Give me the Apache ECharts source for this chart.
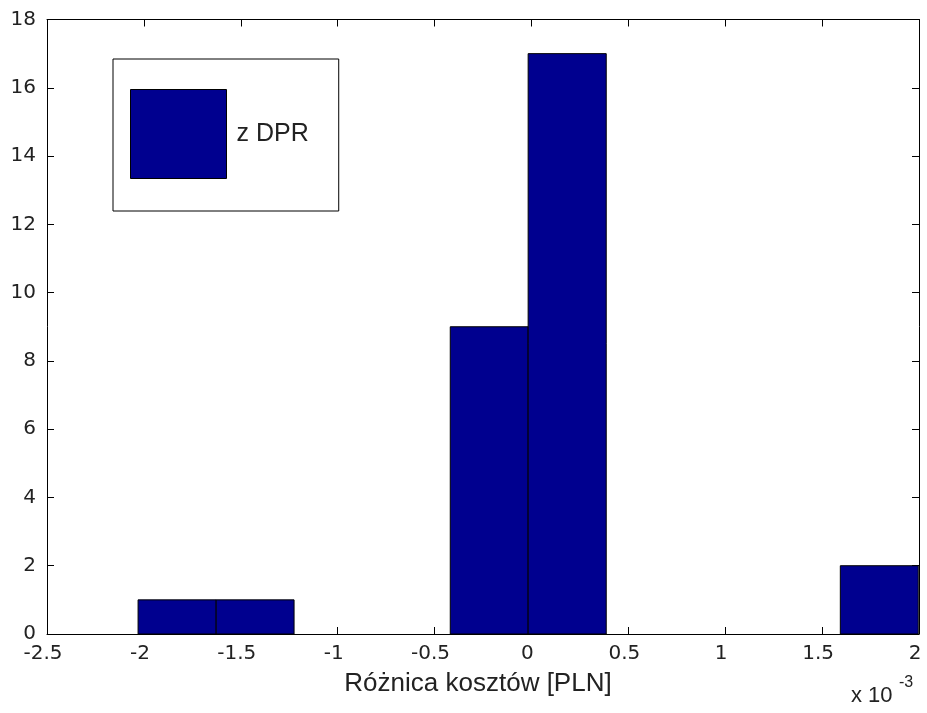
<!DOCTYPE html>
<html>
<head>
<meta charset="utf-8">
<script src="https://cdn.jsdelivr.net/npm/echarts@6/dist/echarts.min.js"></script>
<style>
html,body{margin:0;padding:0;background:#fff;}
#chart{width:927px;height:713px;}
</style>
</head>
<body>
<div id="chart"></div>
<script>
// Histogram bins (x in units of 1e-3 PLN)
const binStarts = [-2.03, -1.627, -1.225, -0.822, -0.419, -0.017, 0.386, 0.789, 1.191, 1.594];
const binEnds   = [-1.627, -1.225, -0.822, -0.419, -0.017, 0.386, 0.789, 1.191, 1.594, 1.996];
const counts    = [1, 1, 0, 0, 9, 17, 0, 0, 0, 2];
const seriesName = 'z DPR';
const xAxisName = 'Różnica kosztów [PLN]';
const xTicks = [-2.5, -2, -1.5, -1, -0.5, 0, 0.5, 1, 1.5, 2];
const yTicks = [0, 2, 4, 6, 8, 10, 12, 14, 16, 18];

const FONT = '"Liberation Sans", Arial, sans-serif';
const TICKFONT = '"DejaVu Sans", sans-serif';
const TXT = '#222';
const BLUE = '#00008F';

const data = binStarts.map((s, i) => [s, binEnds[i], counts[i]]);

const chart = echarts.init(document.getElementById('chart'), null, {renderer: 'canvas'});
const axisCommon = {
  axisLine: {show: true, onZero: false, lineStyle: {color: '#000', width: 1}},
  axisTick: {show: true, inside: true, length: 7, lineStyle: {color: '#000', width: 1}},
  splitLine: {show: false}
};
chart.setOption({
  animation: false,
  backgroundColor: '#fff',
  grid: {left: 47, right: 8, top: 19.5, bottom: 79, containLabel: false, outerBoundsMode: 'none'},
  legend: {
    left: 113, top: 59,
    orient: 'vertical',
    backgroundColor: '#fff',
    borderColor: '#000', borderWidth: 1,
    padding: [30, 30, 32, 17],
    itemWidth: 96, itemHeight: 89,
    icon: 'rect',
    itemStyle: {borderColor: '#000', borderWidth: 1},
    textStyle: {fontFamily: FONT, fontSize: 25, color: TXT, padding: [8, 0, 0, 5]},
    data: [{name: seriesName, icon: 'rect'}]
  },
  xAxis: [
    Object.assign({}, axisCommon, {
      type: 'value', position: 'bottom', min: -2.5, max: 2, interval: 0.5,
      name: xAxisName, nameLocation: 'middle', nameGap: 37,
      nameTextStyle: {fontFamily: FONT, fontSize: 26, color: TXT, padding: [0, 10, 0, 0]},
      axisLabel: {fontFamily: TICKFONT, fontSize: 20, color: TXT, margin: 10, padding: [0, 8, 0, 0],
        formatter: v => String(xTicks.find(t => Math.abs(t - v) < 1e-9) ?? v)}
    }),
    Object.assign({}, axisCommon, {
      type: 'value', position: 'top', min: -2.5, max: 2, interval: 0.5,
      axisLabel: {show: false}
    })
  ],
  yAxis: [
    Object.assign({}, axisCommon, {
      type: 'value', position: 'left', min: 0, max: 18, interval: 2,
      axisLabel: {fontFamily: TICKFONT, fontSize: 20, color: TXT, margin: 11,
        formatter: v => String(yTicks.find(t => t === v) ?? v)}
    }),
    Object.assign({}, axisCommon, {
      type: 'value', position: 'right', min: 0, max: 18, interval: 2,
      axisLabel: {show: false}
    })
  ],
  graphic: [
    {type: 'text', left: 851, top: 685, style: {text: 'x 10', font: '22px ' + FONT, fill: TXT}},
    {type: 'text', left: 899, top: 675, style: {text: '-3', font: '16px ' + FONT, fill: TXT}}
  ],
  series: [{
    name: seriesName,
    type: 'custom',
    color: BLUE,
    itemStyle: {color: BLUE, borderColor: '#000', borderWidth: 1},
    encode: {x: [0, 1], y: 2},
    data: data,
    renderItem: function (params, api) {
      const c = api.value(2);
      if (!c) return null;
      const p0 = api.coord([api.value(0), 0]);
      const p1 = api.coord([api.value(1), c]);
      return {
        type: 'rect',
        shape: {x: p0[0], y: p1[1], width: p1[0] - p0[0], height: p0[1] - p1[1]},
        style: {fill: BLUE, stroke: '#000', lineWidth: 1}
      };
    }
  }]
});
</script>
</body>
</html>
